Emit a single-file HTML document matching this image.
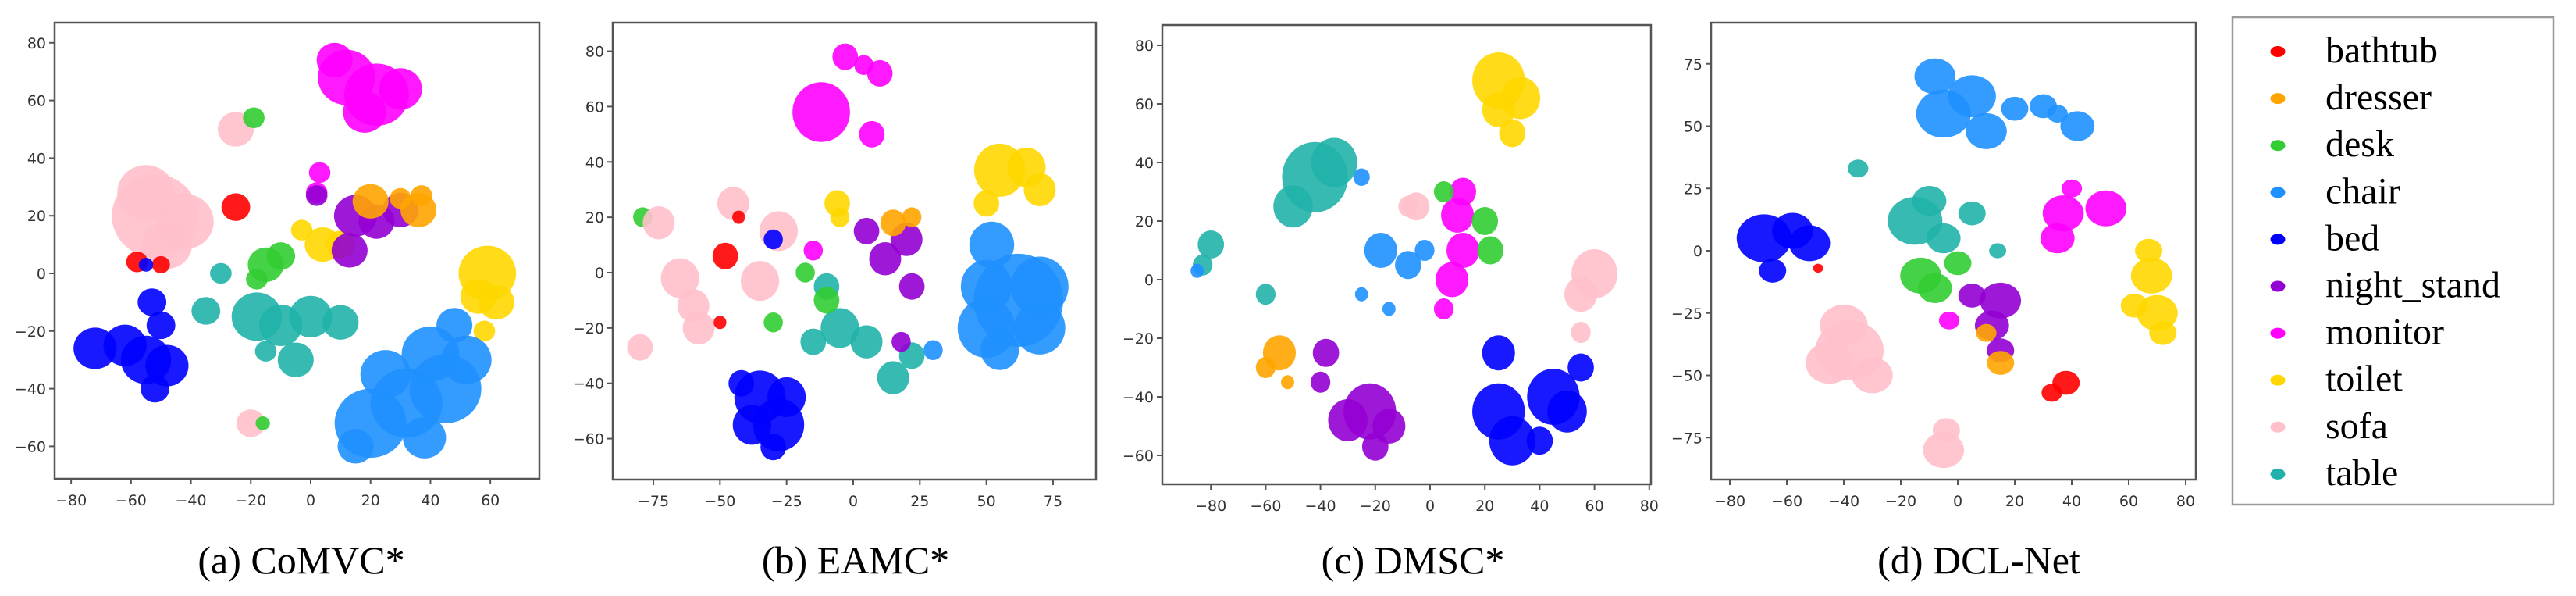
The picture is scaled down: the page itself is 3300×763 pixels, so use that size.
<!DOCTYPE html>
<html><head><meta charset="utf-8">
<style>
html,body{margin:0;padding:0;background:#fff;}
svg{display:block;}
</style></head>
<body>
<svg id="fig" width="3300" height="763" viewBox="0 0 3300 763" xmlns="http://www.w3.org/2000/svg"></svg>
<script>
const classNames = ["bathtub","dresser","desk","chair","bed","night_stand","monitor","toilet","sofa","table"];
const classColors = ["#ff0000","#ffa500","#32cd32","#1e90ff","#0000ff","#9400d3","#ff00ff","#ffd700","#ffc0cb","#20b2aa"];

// Panel (a) CoMVC* blobs: x, y, radius (data units), class index
const aX = [12,22,30,18,8, 3,2, -25,-19, -52,-42,-55,-48, -25, -58,-50,-55, -72,-62,-55,-48,-52,-53,-50, -35,-18,-10,0,10,-5,-15,-30, -15,-10,-18, 59,56,62,58,-3,4,10, 20,32,45,52,40,25,15,38,48, 15,22,13,30,2, 20,36,37,30, -20,-16];
const aY = [68,62,64,56,74, 35,28, 50,54, 20,18,28,10, 23, 4,3,3, -26,-25,-30,-32,-40,-10,-18, -13,-15,-18,-15,-17,-30,-27,0, 3,6,-2, 0,-8,-10,-20,15,10,10, -52,-45,-40,-30,-28,-35,-60,-57,-18, 20,18,8,22,27, 25,22,27,26, -52,-52];
const aR = [8,9,6,6,5, 3,3, 5,3, 12,8,8,7, 4, 3,2.5,2, 6,6,7,6,4,4,4, 4,7,6,6,5,5,3,3, 5,4,3, 8,5,5,3,3,5,4, 10,10,10,7,8,7,5,6,5, 6,5,5,5,3, 5,5,3,3, 4,2];
const aC = [6,6,6,6,6, 6,6, 8,2, 8,8,8,8, 0, 0,0,4, 4,4,4,4,4,4,4, 9,9,9,9,9,9,9,9, 2,2,2, 7,7,7,7,7,7,7, 3,3,3,3,3,3,3,3,3, 5,5,5,5,5, 1,1,1,1, 8,2];

// Panel (b) EAMC*
const bX = [-12,-3,10,7,4, 55,65,70,50,-6,-5, 62,50,70,52,50,55,70,30, -35,-28,-38,-25,-42,-30, -5,5,15,22,-15,-10, -10,-18,-30,-79, 12,20,22,5,18, 15,22, -65,-60,-58,-73,-80,-45,-28,-35, -48,-43,-50, -15, -30];
const bY = [58,78,72,50,75, 37,38,30,25,25,20, -10,-20,-5,10,-5,-28,-20,-28, -45,-55,-55,-45,-40,-63, -20,-25,-38,-30,-25,-5, -10,0,-18,20, 5,12,-5,15,-25, 18,20, -2,-12,-20,18,-27,25,15,-3, 6,20,-18, 8, 12];
const bR = [9,4,4,4,3, 8,6,5,4,4,3, 14,9,9,7,8,6,8,3, 8,8,6,6,4,4, 6,5,5,4,4,4, 4,3,3,3, 5,5,4,4,3, 4,3, 6,5,5,5,4,5,6,6, 4,2,2, 3, 3];
const bC = [6,6,6,6,6, 7,7,7,7,7,7, 3,3,3,3,3,3,3,3, 4,4,4,4,4,4, 9,9,9,9,9,9, 2,2,2,2, 5,5,5,5,5, 1,1, 8,8,8,8,8,8,8,8, 0,0,0, 6, 4];

// Panel (c) DMSC*
const cX = [25,33,25,30, -42,-35,-50,-80,-83,-60, -85, -25,-18,-8,-2,-15,-25, 10,12,8,5,12, 20,22,5, -5,-8,60,55,55, -55,-60,-52, -38,-22,-30,-15,-20,-40, 25,30,25,45,50,55,40];
const cY = [68,62,58,50, 35,40,25,12,5,-5, 3, 35,10,5,10,-10,-5, 22,10,0,-10,30, 20,10,30, 25,25,2,-5,-18, -25,-30,-35, -25,-45,-48,-50,-57,-35, -45,-55,-25,-40,-45,-30,-55];
const cR = [8,6,5,4, 10,7,6,4,3,3, 2, 2.5,5,4,3,2,2, 5,5,5,3,4, 4,4,3, 4,3,7,5,3, 5,3,2, 4,8,6,5,4,3, 8,7,5,8,6,4,4];
const cC = [7,7,7,7, 9,9,9,9,9,9, 3, 3,3,3,3,3,3, 6,6,6,6,6, 2,2,2, 8,8,8,8,8, 1,1,1, 5,5,5,5,5,5, 4,4,4,4,4,4,4];

// Panel (d) DCL-Net
const dX = [-8,-5,5,10,20,30,42,35, -35,-15,-10,-5,5,14, -68,-58,-52,-65, -49, 37,35,52,40, 68,70,62,72,67, -13,-8,0, 15,12,5,15, 15,10, -3, -38,-45,-30,-40,-5,-4, 38,33];
const dY = [70,55,62,48,57,58,50,55, 33,12,20,5,15,0, 5,8,3,-8, -7, 15,5,17,25, -10,-25,-22,-33,0, -10,-15,-5, -20,-30,-18,-40, -45,-33, -28, -40,-45,-50,-30,-80,-72, -53,-57];
const dR = [6,8,7,6,4,4,5,3, 3,8,5,5,4,2.5, 8,6,6,4, 1.5, 6,5,6,3, 6,6,4,4,4, 6,5,4, 6,5,4,4, 4,3, 3, 10,7,6,7,6,4, 4,3];
const dC = [3,3,3,3,3,3,3,3, 9,9,9,9,9,9, 4,4,4,4, 0, 6,6,6,6, 7,7,7,7,7, 2,2,2, 5,5,5,5, 1,1, 6, 8,8,8,8,8,8, 0,0];

const xTicksA = [-80,-60,-40,-20,0,20,40,60];
const yTicksA = [-60,-40,-20,0,20,40,60,80];
const xTicksB = [-75,-50,-25,0,25,50,75];
const yTicksB = [-60,-40,-20,0,20,40,60,80];
const xTicksC = [-80,-60,-40,-20,0,20,40,60,80];
const yTicksC = [-60,-40,-20,0,20,40,60,80];
const xTicksD = [-80,-60,-40,-20,0,20,40,60,80];
const yTicksD = [-75,-50,-25,0,25,50,75];

const NS = "http://www.w3.org/2000/svg";
const svg = document.getElementById("fig");
const BLOB_SCALE = 1.2;
function mk(tag, attrs, parent){
  const e = document.createElementNS(NS, tag);
  for (const k in attrs) e.setAttribute(k, attrs[k]);
  (parent||svg).appendChild(e);
  return e;
}
function fmt(v){ return v < 0 ? "\u2212" + Math.abs(v) : String(v); }

function panel(key, box, x0px, xs, y0px, ys, xt, yt, X, Y, R, C, caption, capX){
  const g = mk("g", {});
  
  
  const sx = v => x0px + v * xs;
  const sy = v => y0px - v * ys;
  const clipId = "clip" + key;
  const cp = mk("clipPath", {id: clipId}, g);
  mk("rect", {x: box[0], y: box[1], width: box[2]-box[0], height: box[3]-box[1]}, cp);
  const pts = mk("g", {"clip-path": "url(#" + clipId + ")"}, g);
  
  
  for (let i = 0; i < X.length; i++){
    const e = mk("ellipse", {cx: sx(X[i]), cy: sy(Y[i]), rx: R[i]*xs*BLOB_SCALE, ry: R[i]*ys*BLOB_SCALE, fill: classColors[C[i]], "fill-opacity": 0.9}, pts);
    
    
  }
  const fr = mk("rect", {x: box[0], y: box[1], width: box[2]-box[0], height: box[3]-box[1], fill: "none", stroke: "#555", "stroke-width": 2.5}, g);
  
  
  xt.forEach(v => {
    const x = sx(v);
    mk("line", {x1: x, x2: x, y1: box[3], y2: box[3]+7, stroke: "#555", "stroke-width": 2}, g);
    const t = mk("text", {x: x, y: box[3]+34, "text-anchor": "middle", "font-size": 19, fill: "#333", "font-family": "DejaVu Sans, Liberation Sans, sans-serif"}, g);
    t.textContent = fmt(v);
    
    
  });
  yt.forEach(v => {
    const y = sy(v);
    mk("line", {x1: box[0]-7, x2: box[0], y1: y, y2: y, stroke: "#555", "stroke-width": 2}, g);
    const t = mk("text", {x: box[0]-11, y: y+7, "text-anchor": "end", "font-size": 19, fill: "#333", "font-family": "DejaVu Sans, Liberation Sans, sans-serif"}, g);
    t.textContent = fmt(v);
    
    
  });
  const cap = mk("text", {x: capX, y: 734, "text-anchor": "middle", "font-size": 50, fill: "#000", "font-family": "Liberation Serif, serif"}, g);
  cap.textContent = caption;
  
  
}

panel("a", [70,29,691,613], 398, 3.836, 350, 3.69, xTicksA, yTicksA, aX, aY, aR, aC, "(a) CoMVC*", 386);
panel("b", [785,29,1404,614], 1093, 3.413, 349, 3.543, xTicksB, yTicksB, bX, bY, bR, bC, "(b) EAMC*", 1096);
panel("c", [1489,32,2115,620], 1832, 3.51, 358, 3.75, xTicksC, yTicksC, cX, cY, cR, cC, "(c) DMSC*", 1810);
panel("d", [2192,29,2813,614], 2508, 3.65, 321, 3.19, xTicksD, yTicksD, dX, dY, dR, dC, "(d) DCL-Net", 2535);

// Legend
const lg = mk("g", {});


mk("rect", {x: 2860, y: 22, width: 411, height: 624, fill: "#fff", stroke: "#999", "stroke-width": 2.5}, lg);
classNames.forEach((n, i) => {
  const cy = 66 + i * 60.1;
  const row = mk("g", {}, lg);
  
  
  mk("ellipse", {cx: 2918, cy: cy, rx: 9.5, ry: 7, fill: classColors[i]}, row);
  const t = mk("text", {x: 2979, y: cy + 14, "font-size": 48, fill: "#000", "font-family": "Liberation Serif, serif"}, row);
  t.textContent = n;
});
</script>
</body></html>
